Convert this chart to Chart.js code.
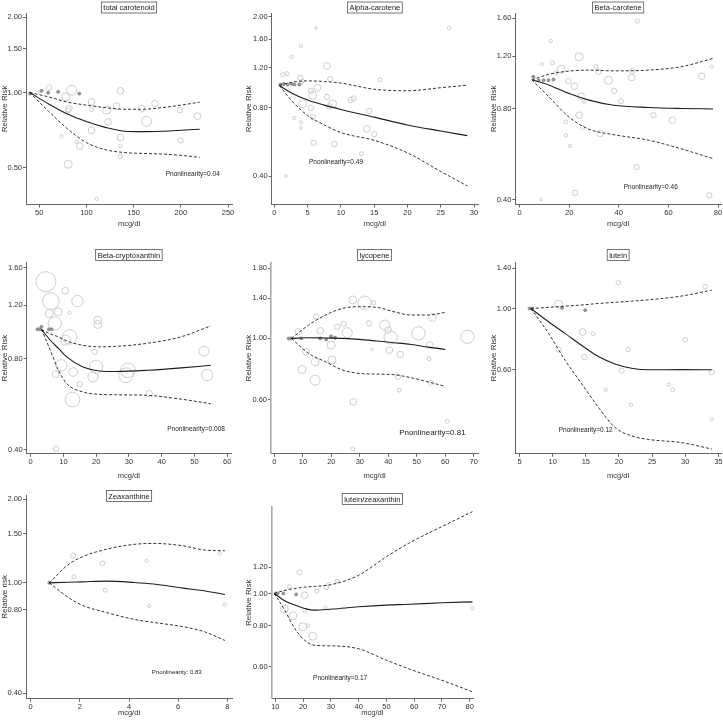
<!DOCTYPE html>
<html>
<head>
<meta charset="utf-8">
<script src="https://cdn.jsdelivr.net/npm/chart.js@4.4.0/dist/chart.umd.min.js"></script>
<style>
  html, body { margin: 0; padding: 0; background: #fff; }
  #wrap { position: relative; width: 723px; height: 722px; overflow: hidden; }
  #wrap canvas { position: absolute; }
</style>
</head>
<body>
<div id="wrap"></div>
<script>
// ---- total carotenoid ----
const tcGridX = [40, 60, 80, 100, 120, 140, 160, 180, 200, 220];
const tcFit   = [1.0, 0.90, 0.82, 0.765, 0.725, 0.70, 0.697, 0.70, 0.706, 0.713];
const tcUpper = [1.0, 0.96, 0.915, 0.89, 0.87, 0.857, 0.857, 0.87, 0.89, 0.915];
const tcLower = [1.0, 0.84, 0.715, 0.63, 0.59, 0.575, 0.57, 0.567, 0.56, 0.55];
const tcStudyX = [60.6, 78, 84.3, 80.7, 81.4, 73.7, 89.6, 93, 80.7, 105.5, 105.5, 105.5, 110.8, 121.4, 123, 132, 136, 136, 136, 136, 158.5, 163.8, 172.6, 199, 199.8, 217.5, 50];
const tcStudyY = [1.047, 0.961, 1.022, 0.849, 0.862, 0.668, 0.634, 0.611, 0.516, 0.917, 0.855, 0.706, 0.375, 0.849, 0.763, 0.881, 1.016, 0.66, 0.611, 0.555, 0.862, 0.767, 0.903, 0.849, 0.643, 0.804, 1.006];
const tcStudyW = [8, 12, 15, 8, 10, 5, 5, 10, 12, 10, 6, 10, 5, 12, 10, 10, 10, 10, 5, 6, 10, 15, 10, 8, 8, 10, 4];
const tcRefX = [40.1, 52.5, 59.5, 70, 92.4];
const tcRefY = [0.99, 1.016, 0.997, 1.006, 0.99];

// ---- alpha-carotene ----
const acGridX = [0.75, 2.5, 5, 7.5, 10, 15, 20, 25, 29];
const acFit   = [1.0, 0.93, 0.863, 0.82, 0.785, 0.726, 0.671, 0.631, 0.602];
const acUpper = [1.0, 1.032, 1.048, 1.041, 1.025, 0.963, 0.948, 0.978, 1.003];
const acLower = [1.0, 0.863, 0.738, 0.671, 0.621, 0.574, 0.506, 0.419, 0.362];
const acStudyX = [1.25, 1.9, 2.6, 4.0, 6.25, 26.25, 3.9, 4.0, 4.25, 5.5, 5.75, 6.5, 4.25, 5.5, 5.75, 3.0, 4.0, 4.0, 5.9, 7.9, 8.4, 7.9, 8.25, 8.75, 9.0, 11.5, 11.9, 14.25, 13.9, 15, 13.1, 15.9, 1.75];
const acStudyY = [1.116, 1.127, 1.339, 1.494, 1.786, 1.786, 1.081, 1.025, 1.048, 0.948, 0.905, 0.978, 0.831, 0.798, 0.726, 0.72, 0.689, 0.651, 0.56, 1.218, 1.068, 0.891, 0.81, 0.831, 0.553, 0.863, 0.877, 0.773, 0.645, 0.611, 0.502, 1.058, 0.4];
const acStudyW = [6, 6, 5, 5, 4, 5, 8, 6, 5, 8, 12, 10, 12, 8, 8, 5, 5, 4, 8, 10, 8, 8, 8, 12, 8, 8, 8, 8, 10, 8, 6, 6, 4];
const acRefX = [0.9, 1.4, 2.0, 2.6, 3.0, 3.75];
const acRefY = [1.01, 1.016, 1.01, 1.016, 1.01, 1.01];

// ---- beta-carotene ----
const bcGridX = [5, 12, 20, 28, 38, 52, 65, 78];
const bcFit   = [1.0, 0.96, 0.90, 0.856, 0.823, 0.809, 0.803, 0.80];
const bcUpper = [1.0, 1.044, 1.069, 1.077, 1.071, 1.077, 1.105, 1.178];
const bcLower = [1.0, 0.875, 0.751, 0.685, 0.657, 0.63, 0.59, 0.547];
const bcStudyX = [9.0, 12.6, 13.3, 14.6, 16.8, 19.7, 22.1, 24.0, 24.8, 26.0, 24.0, 25.4, 18.7, 18.7, 20.4, 22.4, 8.7, 30.9, 31.8, 32.5, 35.8, 38.1, 40.9, 45.5, 45.2, 47.2, 47.5, 54.0, 61.6, 73.4, 77.4, 76.5];
const bcStudyY = [1.128, 1.345, 1.139, 1.055, 1.085, 0.99, 0.952, 1.193, 0.882, 0.845, 0.763, 0.694, 0.724, 0.654, 0.603, 0.421, 0.40, 1.105, 1.063, 0.663, 0.997, 0.919, 0.849, 1.069, 1.018, 0.513, 1.569, 0.763, 0.734, 1.028, 1.105, 0.413];
const bcStudyW = [5, 5, 6, 6, 12, 8, 10, 12, 10, 5, 10, 6, 6, 5, 5, 8, 4, 6, 8, 10, 12, 8, 8, 8, 10, 8, 6, 8, 10, 10, 5, 8];
const bcRefX = [5.6, 7.7, 9.7, 11.7, 13.7];
const bcRefY = [1.023, 0.997, 0.997, 0.997, 1.003];

// ---- beta-cryptoxanthin ----
const bxGridX = [3.3, 6, 8.5, 11, 16, 21, 26, 36, 46, 55];
const bxFit   = [1.0, 0.92, 0.864, 0.81, 0.75, 0.728, 0.725, 0.732, 0.745, 0.76];
const bxUpper = [1.0, 0.965, 0.944, 0.915, 0.885, 0.875, 0.878, 0.90, 0.945, 1.027];
const bxLower = [1.0, 0.853, 0.732, 0.661, 0.62, 0.609, 0.607, 0.604, 0.587, 0.567];
const bxStudyX = [4.66, 6.17, 5.67, 8.4, 7.39, 10.6, 11.9, 14.3, 11.9, 10.7, 9.4, 7.6, 13, 15, 12.8, 7.7, 20.5, 20.5, 19.5, 20, 19, 29.1, 29.7, 36.2, 52.9, 53.9];
const bxStudyY = [1.438, 1.24, 1.128, 1.143, 1.046, 1.342, 1.134, 1.24, 0.944, 0.921, 0.76, 0.71, 0.722, 0.658, 0.585, 0.402, 1.073, 1.038, 0.842, 0.751, 0.696, 0.705, 0.732, 0.612, 0.846, 0.705];
const bxStudyW = [30, 25, 12, 12, 20, 10, 5, 17, 22, 15, 17, 10, 13, 8, 22, 8, 12, 12, 8, 20, 15, 22, 22, 10, 15, 17];
const bxRefX = [2.1, 2.8, 3.3, 5.6, 6.4];
const bxRefY = [1.0, 1.0, 1.019, 1.0, 1.0];

// ---- lycopene ----
const lyGridX = [6, 12, 18, 24, 30, 36, 42, 48, 54, 60];
const lyFit   = [1.0, 1.006, 1.003, 1.0, 0.992, 0.978, 0.965, 0.951, 0.93, 0.912];
const lyUpper = [1.0, 1.118, 1.216, 1.286, 1.304, 1.297, 1.25, 1.216, 1.216, 1.243];
const lyLower = [1.0, 0.882, 0.822, 0.767, 0.746, 0.742, 0.738, 0.72, 0.695, 0.67];
const lyStudyX = [8.4, 11.1, 9.7, 14.3, 14.3, 14.7, 16.1, 19.9, 19.9, 20.2, 22, 24.3, 25.6, 27.5, 31.7, 34.9, 33.2, 34.2, 27.7, 27.5, 38.7, 39.9, 40.8, 40.4, 44.2, 43.4, 43.8, 50.6, 54.5, 55.5, 54.3, 55.1, 60.7, 67.8];
const lyStudyY = [1.057, 0.894, 0.771, 0.822, 0.705, 1.199, 1.066, 1.02, 0.946, 0.834, 1.103, 1.128, 1.049, 1.379, 1.348, 1.348, 1.134, 0.912, 0.588, 0.397, 1.118, 1.072, 1.008, 0.907, 0.874, 0.725, 0.649, 1.043, 0.946, 1.192, 0.843, 0.689, 0.5, 1.014];
const lyStudyW = [10, 10, 12, 12, 15, 8, 10, 5, 12, 12, 8, 8, 15, 12, 20, 6, 8, 4, 10, 6, 15, 10, 20, 10, 10, 8, 6, 20, 10, 12, 6, 8, 6, 20];
const lyRefX = [5.0, 5.9, 9.4, 16.1, 18.2, 19.9, 21.3];
const lyRefY = [1.0, 1.0, 1.0, 1.0, 0.992, 1.014, 1.006];

// ---- lutein ----
const luGridX = [6.7, 9.4, 11.9, 14.4, 16.9, 19.4, 21.9, 24.4, 29.5, 34];
const luFit   = [1.0, 0.894, 0.811, 0.735, 0.67, 0.63, 0.608, 0.60, 0.601, 0.60];
const luUpper = [1.0, 1.01, 1.02, 1.03, 1.043, 1.053, 1.063, 1.075, 1.11, 1.166];
const luLower = [1.0, 0.811, 0.648, 0.533, 0.439, 0.371, 0.346, 0.336, 0.327, 0.31];
const luStudyX = [10.9, 10.9, 14.5, 14.8, 16.1, 18, 19.9, 20.4, 21.4, 21.8, 27.5, 28.1, 30, 33, 34, 34];
const luStudyY = [1.037, 0.711, 0.822, 0.667, 0.811, 0.508, 1.24, 0.596, 0.711, 0.448, 0.53, 0.508, 0.771, 1.199, 0.588, 0.397];
const luStudyW = [12, 8, 10, 8, 6, 5, 7, 8, 7, 5, 5, 6, 7, 7, 8, 5];
const luRefX = [6.5, 6.9, 11.4, 14.9];
const luRefY = [1.0, 1.0, 1.006, 0.986];

// ---- zeaxanthine ----
const zeGridX = [0.76, 1.5, 2.1, 3.1, 4.2, 5.0, 6.2, 7.1, 7.9];
const zeFit   = [1.0, 1.005, 1.008, 1.014, 1.003, 0.99, 0.957, 0.935, 0.908];
const zeUpper = [1.0, 1.158, 1.241, 1.323, 1.376, 1.387, 1.36, 1.312, 1.305];
const zeLower = [1.0, 0.89, 0.83, 0.781, 0.739, 0.72, 0.695, 0.665, 0.62];
const zeStudyX = [1.73, 1.76, 2.92, 3.03, 4.71, 4.82, 7.69, 7.89];
const zeStudyY = [1.252, 1.051, 1.175, 0.941, 1.201, 0.826, 1.276, 0.835];
const zeStudyW = [8, 6, 7, 6, 5, 5, 5, 5];
const zeRefX = [0.76];
const zeRefY = [1.0];

// ---- lutein/zeaxanthin ----
const lzGridX = [9.6, 13, 17, 20.5, 24, 30.5, 40, 50, 58, 70, 81];
const lzFit   = [1.0, 0.954, 0.922, 0.901, 0.89, 0.897, 0.911, 0.922, 0.927, 0.937, 0.943];
const lzUpper = [1.0, 1.02, 1.035, 1.045, 1.05, 1.065, 1.135, 1.291, 1.418, 1.593, 1.768];
const lzLower = [1.0, 0.901, 0.783, 0.722, 0.697, 0.694, 0.68, 0.628, 0.592, 0.546, 0.504];
const lzStudyX = [13.2, 16.3, 15.1, 18.7, 20.5, 20.5, 19.9, 21.7, 23.5, 24.9, 28, 28.3, 29.1, 32.3, 81];
const lzStudyY = [0.897, 0.856, 1.048, 1.158, 0.988, 0.89, 0.793, 0.8, 0.742, 1.016, 0.905, 1.043, 1.067, 1.092, 0.9];
const lzStudyW = [12, 12, 6, 8, 10, 6, 12, 5, 12, 6, 5, 7, 5, 6, 5];
const lzRefX = [10.2, 10.8, 12.9, 17.5];
const lzRefY = [1.0, 1.0, 1.0, 0.993];

// ---- tick labels and texts ----
const panelTitles = ["total carotenoid", "Alpha-carotene", "Beta-carotene", "Beta-cryptoxanthin", "lycopene", "lutein", "Zeaxanthine", "lutein/zeaxanthin"];
const pTexts = ["Pnonlinearity=0.04", "Pnonlinearity=0.49", "Pnonlinearity=0.46", "Pnonlinearity=0.008", "Pnonlinearity=0.81", "Pnonlinearity=0.12", "Pnonlinearity: 0.83", "Pnonlinearity=0.17"];
const yTitles = ["Relative Risk", "Relative Risk", "Relative Risk", "Relative Risk", "Relative Risk", "Relative Risk", "Relative risk", "Relative Risk"];
const xTitle = "mcg/dl";
const xTickSets = [
  [50, 100, 150, 200, 250], [0, 5, 10, 15, 20, 25, 30], [0, 20, 40, 60, 80], [0, 10, 20, 30, 40, 50, 60],
  [0, 10, 20, 30, 40, 50, 60, 70], [5, 10, 15, 20, 25, 30, 35], [0, 2, 4, 6, 8], [10, 20, 30, 40, 50, 60, 70, 80]
];
const yTickSets = [
  [0.5, 1.0, 1.5, 2.0], [0.4, 0.8, 1.2, 1.6, 2.0], [0.4, 0.8, 1.2, 1.6], [0.4, 0.8, 1.2, 1.6],
  [0.6, 1.0, 1.4, 1.8], [0.6, 1.0, 1.4], [0.4, 0.8, 1.0, 1.5, 2.0], [0.6, 0.8, 1.0, 1.2]
];

// ---- panel layout (page pixels) and axis ranges ----
const panels = [
  { d: "tc", left: 0,   top: 0,   axisX: 26,    plotTop: 13.3,  plotRight: 231.7, axisY: 204,   bottom: 227.5, titleY: 7.5, x: [36, 254.2],  y: [0.356, 2.076], p: [184, 0.47],  pSize: 6.5 },
  { d: "ac", left: 244, top: 0,   axisX: 271.7, plotTop: 13.3,  plotRight: 477.7, axisY: 204,   bottom: 227.5, titleY: 7.5, x: [-0.4, 30.6], y: [0.345, 2.076], p: [5.2, 0.458], pSize: 6.5 },
  { d: "bc", left: 489, top: 0,   axisX: 515.3, plotTop: 13.3,  plotRight: 721,   axisY: 204,   bottom: 227.5, titleY: 7.5, x: [-1.7, 81.2], y: [0.385, 1.664], p: [42, 0.439],  pSize: 6.5 },
  { d: "bx", left: 0,   top: 232, axisX: 26.7,  plotTop: 262.3, plotRight: 232.3, axisY: 453.3, bottom: 479.5, titleY: 255, x: [-1.2, 61.2], y: [0.387, 1.667], p: [41.7, 0.466], pSize: 6.5 },
  { d: "ly", left: 244, top: 232, axisX: 271,   plotTop: 262.3, plotRight: 477.7, axisY: 453.3, bottom: 479.5, titleY: 255, x: [-1.2, 71.5], y: [0.381, 1.89],  p: [43.8, 0.456], pSize: 8, grayAxis: true },
  { d: "lu", left: 489, top: 232, axisX: 515.3, plotTop: 262.3, plotRight: 721.3, axisY: 453.3, bottom: 479.5, titleY: 255, x: [4.35, 35.4], y: [0.298, 1.47],  p: [10.9, 0.364], pSize: 6.5 },
  { d: "ze", left: 0,   top: 482, axisX: 26,    plotTop: 495,   plotRight: 232.3, axisY: 698.3, bottom: 716.5, titleY: 496, x: [-0.19, 8.19], y: [0.382, 2.073], p: [4.93, 0.476], pSize: 6 },
  { d: "lz", left: 244, top: 482, axisX: 271.7, plotTop: 506.7, plotRight: 472.7, axisY: 698.3, bottom: 716.5, titleY: 499, x: [8.68, 81.2], y: [0.48, 1.83],   p: [23.6, 0.553], pSize: 6.5, grayAxis: true }
];

const series = {
  tc: [tcGridX, tcFit, tcUpper, tcLower, tcStudyX, tcStudyY, tcStudyW, tcRefX, tcRefY],
  ac: [acGridX, acFit, acUpper, acLower, acStudyX, acStudyY, acStudyW, acRefX, acRefY],
  bc: [bcGridX, bcFit, bcUpper, bcLower, bcStudyX, bcStudyY, bcStudyW, bcRefX, bcRefY],
  bx: [bxGridX, bxFit, bxUpper, bxLower, bxStudyX, bxStudyY, bxStudyW, bxRefX, bxRefY],
  ly: [lyGridX, lyFit, lyUpper, lyLower, lyStudyX, lyStudyY, lyStudyW, lyRefX, lyRefY],
  lu: [luGridX, luFit, luUpper, luLower, luStudyX, luStudyY, luStudyW, luRefX, luRefY],
  ze: [zeGridX, zeFit, zeUpper, zeLower, zeStudyX, zeStudyY, zeStudyW, zeRefX, zeRefY],
  lz: [lzGridX, lzFit, lzUpper, lzLower, lzStudyX, lzStudyY, lzStudyW, lzRefX, lzRefY]
};

const NARROW = "'Liberation Sans Narrow', 'Arial Narrow', 'Liberation Sans', Arial, sans-serif";
const WIDE = "'Liberation Sans', Arial, sans-serif";
const PAD_RIGHT = 10;

const pts = (xs, ys) => xs.map((x, i) => ({ x: x, y: ys[i] }));
const bubbles = (xs, ys, ws) => xs.map((x, i) => ({ x: x, y: ys[i], r: ws[i] / 3 }));

// boxed title and p-value text
const panelText = {
  id: "panelText",
  afterDraw(chart, args, opts) {
    const ctx = chart.ctx;
    const area = chart.chartArea;
    ctx.save();
    ctx.font = "7.5px " + NARROW;
    const w = ctx.measureText(opts.title).width;
    const cx = (area.left + area.right) / 2;
    const cy = opts.titleY;
    ctx.fillStyle = "#fff";
    ctx.fillRect(cx - w / 2 - 2, cy - 5.5, w + 4, 11);
    ctx.strokeStyle = "#555";
    ctx.lineWidth = 0.8;
    ctx.strokeRect(cx - w / 2 - 2, cy - 5.5, w + 4, 11);
    ctx.fillStyle = "#222";
    ctx.textAlign = "center";
    ctx.textBaseline = "middle";
    ctx.fillText(opts.title, cx, cy + 0.5);

    ctx.font = opts.pSize + "px " + NARROW;
    ctx.textAlign = "left";
    ctx.fillText(opts.pText, chart.scales.x.getPixelForValue(opts.p[0]), chart.scales.y.getPixelForValue(opts.p[1]));
    ctx.restore();
  }
};

const wrap = document.getElementById("wrap");

panels.forEach((pn, k) => {
  const [gx, fit, up, lo, sx, sy, sw, rx, ry] = series[pn.d];
  const W = Math.round(pn.plotRight + PAD_RIGHT - pn.left);
  const H = Math.round(pn.bottom - pn.top);
  const canvas = document.createElement("canvas");
  canvas.width = W;
  canvas.height = H;
  canvas.style.left = pn.left + "px";
  canvas.style.top = pn.top + "px";
  canvas.style.width = W + "px";
  canvas.style.height = H + "px";
  wrap.appendChild(canvas);

  const axisColor = "#666";
  new Chart(canvas, {
    type: "scatter",
    data: {
      datasets: [
        { type: "line", data: pts(gx, fit), borderColor: "#1e1e1e", borderWidth: 1.1, pointRadius: 0, cubicInterpolationMode: "monotone", fill: false },
        { type: "line", data: pts(gx, up), borderColor: "#333", borderWidth: 1, borderDash: [3, 2], pointRadius: 0, cubicInterpolationMode: "monotone", fill: false },
        { type: "line", data: pts(gx, lo), borderColor: "#333", borderWidth: 1, borderDash: [3, 2], pointRadius: 0, cubicInterpolationMode: "monotone", fill: false },
        { type: "bubble", data: pts(rx, ry).map(p => ({ x: p.x, y: p.y, r: 1.5 })), backgroundColor: "#9a9a9a", borderColor: "#808080", borderWidth: 0.8 },
        { type: "bubble", data: bubbles(sx, sy, sw), backgroundColor: "rgba(0,0,0,0)", borderColor: "#c8c8c8", borderWidth: 0.9 }
      ]
    },
    options: {
      responsive: false,
      animation: false,
      devicePixelRatio: 1,
      events: [],
      clip: false,
      layout: { padding: { top: pn.plotTop - pn.top, right: PAD_RIGHT, left: 0, bottom: 0 } },
      plugins: {
        legend: { display: false },
        tooltip: { enabled: false },
        panelText: { title: panelTitles[k], pText: pTexts[k], p: pn.p, pSize: pn.pSize, titleY: pn.titleY - pn.top }
      },
      scales: {
        x: {
          type: "linear",
          min: pn.x[0],
          max: pn.x[1],
          afterBuildTicks: s => { s.ticks = xTickSets[k].map(v => ({ value: v })); },
          afterFit: s => { s.height = pn.bottom - pn.axisY; },
          ticks: { font: { family: NARROW, size: 7.5 }, color: "#333", padding: 1, maxRotation: 0, autoSkip: false },
          grid: { display: true, drawOnChartArea: false, drawTicks: true, tickLength: 3, color: axisColor },
          border: { display: true, color: axisColor, width: 1 },
          title: { display: true, text: xTitle, font: { family: NARROW, size: 7.5 }, color: "#333", padding: 0 }
        },
        y: {
          type: "logarithmic",
          min: pn.y[0],
          max: pn.y[1],
          afterBuildTicks: s => { s.ticks = yTickSets[k].map(v => ({ value: v })); },
          afterFit: s => { s.width = pn.axisX - pn.left; },
          ticks: { font: { family: NARROW, size: 7.5 }, color: "#333", padding: 1, autoSkip: false, callback: v => Number(v).toFixed(2) },
          grid: { display: true, drawOnChartArea: false, drawTicks: true, tickLength: 3, color: axisColor },
          border: { display: true, color: pn.grayAxis ? "#aaa" : axisColor, width: pn.grayAxis ? 1.6 : 1 },
          title: { display: true, text: yTitles[k], font: { family: WIDE, size: 8 }, color: "#333", padding: 0 }
        }
      }
    },
    plugins: [panelText]
  });
});
</script>
</body>
</html>
